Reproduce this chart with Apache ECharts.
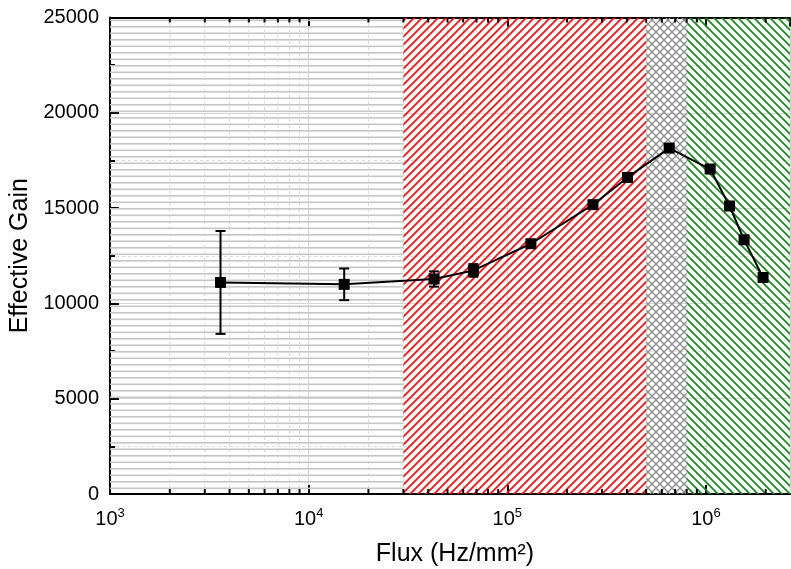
<!DOCTYPE html>
<html><head><meta charset="utf-8">
<script src="https://cdn.jsdelivr.net/npm/echarts@6/dist/echarts.min.js"></script>
<style>html,body{margin:0;padding:0;background:#fff}#c{width:791px;height:569px}</style>
</head><body><div id="c"></div>
<script>
// ---- data ----
const flux    = [3600, 15100, 42800, 67500, 131500, 270000, 403000, 653000, 1050000, 1315000, 1556000, 1940000];
const gain    = [11100, 11000, 11280, 11730, 13130, 15180, 16610, 18150, 17050, 15110, 13340, 11360];
const gainErr = [2700, 830, 400, 330, 180, 150, 150, 150, 150, 150, 150, 150];

const regionStart   = [1000, 30000, 500000, 800000];
const regionEnd     = [30000, 500000, 800000, 2650000];
const regionPattern = ['hlines', 'red', 'cross', 'green'];

const xMin = 1000, xMax = 2650000;
const yMin = 0, yMax = 25000, yStep = 5000;
const xDecades = [1000, 10000, 100000, 1000000];
const minorMult = [2, 3, 4, 5, 6, 7, 8, 9];

// ---- patterns ----
function makePattern(type) {
  const c = document.createElement('canvas');
  let ctx;
  if (type === 'hlines') {
    c.width = 8; c.height = 13; ctx = c.getContext('2d');
    ctx.fillStyle = '#c6c6c6';
    ctx.fillRect(0, 0, 8, 1.6);
    ctx.fillRect(0, 6.5, 8, 1.6);
    return c;
  }
  const s = 8;
  c.width = s; c.height = s; ctx = c.getContext('2d');
  ctx.lineWidth = type === 'cross' ? 1.3 : 1.7;
  ctx.strokeStyle = type === 'red' ? '#ff0a0a' : type === 'green' ? '#1a8a1a' : '#8a8a8a';
  const fwd = () => {
    ctx.beginPath();
    ctx.moveTo(0, s); ctx.lineTo(s, 0);
    ctx.moveTo(-2, 2); ctx.lineTo(2, -2);
    ctx.moveTo(s - 2, s + 2); ctx.lineTo(s + 2, s - 2);
    ctx.stroke();
  };
  const back = () => {
    ctx.beginPath();
    ctx.moveTo(0, 0); ctx.lineTo(s, s);
    ctx.moveTo(-2, s - 2); ctx.lineTo(2, s + 2);
    ctx.moveTo(s - 2, -2); ctx.lineTo(s + 2, 2);
    ctx.stroke();
  };
  if (type === 'red') fwd();
  else if (type === 'green') back();
  else { fwd(); back(); }
  return c;
}
const patterns = {};
['hlines', 'red', 'cross', 'green'].forEach(t => patterns[t] = { image: makePattern(t), repeat: 'repeat' });

// minor tick values on log axis
const minorVals = [];
xDecades.forEach(d => minorMult.forEach(m => { if (d * m < xMax) minorVals.push(d * m); }));

const font = 'Liberation Sans, Arial, sans-serif';

const chart = echarts.init(document.getElementById('c'), null, { renderer: 'canvas' });

const option = {
  animation: false,
  backgroundColor: '#fff',
  grid: { left: 110, right: 1, top: 17.5, bottom: 75, containLabel: false, outerBoundsMode: 'none' },
  xAxis: [{
    type: 'log', logBase: 10, min: xMin, max: xMax, position: 'bottom',
    axisLine: { show: true, onZero: false, lineStyle: { color: '#000', width: 2 } },
    axisTick: { show: true, inside: true, length: 9, lineStyle: { color: '#000', width: 2 } },
    splitLine: { show: true, lineStyle: { color: '#d6d6d6', width: 1 } },
    axisLabel: {
      show: true, margin: 13, showMaxLabel: false, fontFamily: font,
      formatter: function (v) {
        const e = Math.log10(v);
        if (Math.abs(e - Math.round(e)) > 1e-6) return '';
        return '{b|10}{s|' + Math.round(e) + '}';
      },
      rich: {
        b: { fontSize: 20, color: '#000', fontFamily: font, lineHeight: 24 },
        s: { fontSize: 13, color: '#000', fontFamily: font, lineHeight: 14, verticalAlign: 'top' }
      }
    },
    name: 'Flux (Hz/mm²)', nameLocation: 'middle', nameGap: 48,
    nameTextStyle: { fontSize: 25, color: '#000', fontFamily: font, padding: [0, 0, 0, 10] }
  }, {
    type: 'log', logBase: 10, min: xMin, max: xMax, position: 'top',
    axisLine: { show: true, onZero: false, lineStyle: { color: '#000', width: 2 } },
    axisTick: { show: true, inside: true, length: 9, lineStyle: { color: '#000', width: 2 } },
    splitLine: { show: false }, axisLabel: { show: false }
  }],
  yAxis: [{
    type: 'value', min: yMin, max: yMax, interval: yStep,
    axisLine: { show: true, onZero: false, lineStyle: { color: '#000', width: 2 } },
    axisTick: { show: true, inside: true, length: 9, lineStyle: { color: '#000', width: 2 } },
    minorTick: { show: true, splitNumber: 2, length: 5, lineStyle: { color: '#000', width: 2 } },
    splitLine: { show: true, lineStyle: { color: '#d6d6d6', width: 1 } },
    minorSplitLine: { show: true, lineStyle: { color: '#dcdcdc', width: 1, type: [3, 3] } },
    axisLabel: { fontSize: 20, color: '#000', fontFamily: font, margin: 11,
      formatter: function (v) { return String(v); } },
    name: 'Effective Gain', nameLocation: 'middle', nameGap: 72,
    nameTextStyle: { fontSize: 25, color: '#000', fontFamily: font }
  }],
  series: [
    {
      type: 'custom', z: 1, silent: true, clip: true,
      data: minorVals.map(v => [v]),
      encode: { x: 0 },
      renderItem: function (params, api) {
        const v = api.value(0);
        const p0 = api.coord([v, yMin]), p1 = api.coord([v, yMax]);
        return { type: 'line', shape: { x1: p0[0], y1: p0[1], x2: p1[0], y2: p1[1] },
          style: { stroke: '#dcdcdc', lineWidth: 1, lineDash: [3, 3] } };
      }
    },
    {
      type: 'custom', z: 2, silent: true, clip: true,
      data: regionStart.map((s, i) => [s, regionEnd[i], yMin, yMax, i]),
      encode: { x: [0, 1], y: [2, 3] },
      renderItem: function (params, api) {
        const i = api.value(4);
        const a = api.coord([api.value(0), api.value(3)]);
        const b = api.coord([api.value(1), api.value(2)]);
        return { type: 'rect', shape: { x: a[0], y: a[1], width: b[0] - a[0], height: b[1] - a[1] },
          style: { fill: patterns[regionPattern[i]] } };
      }
    },
    {
      type: 'custom', z: 20, silent: true, clip: false,
      data: minorVals.map(v => [v]),
      encode: { x: 0 },
      renderItem: function (params, api) {
        const v = api.value(0);
        const p0 = api.coord([v, yMin]), p1 = api.coord([v, yMax]);
        return { type: 'group', children: [
          { type: 'line', shape: { x1: p0[0], y1: p0[1], x2: p0[0], y2: p0[1] - 5 }, style: { stroke: '#000', lineWidth: 2 } },
          { type: 'line', shape: { x1: p1[0], y1: p1[1], x2: p1[0], y2: p1[1] + 5 }, style: { stroke: '#000', lineWidth: 2 } }
        ] };
      }
    },
    {
      type: 'custom', z: 10, silent: true,
      data: flux.map((f, i) => [f, gain[i] - gainErr[i], gain[i] + gainErr[i]]),
      encode: { x: 0, y: [1, 2] },
      renderItem: function (params, api) {
        const lo = api.coord([api.value(0), api.value(1)]);
        const hi = api.coord([api.value(0), api.value(2)]);
        const w = 5;
        const st = { stroke: '#000', lineWidth: 2 };
        return { type: 'group', children: [
          { type: 'line', shape: { x1: lo[0], y1: lo[1], x2: hi[0], y2: hi[1] }, style: st },
          { type: 'line', shape: { x1: lo[0] - w, y1: lo[1], x2: lo[0] + w, y2: lo[1] }, style: st },
          { type: 'line', shape: { x1: hi[0] - w, y1: hi[1], x2: hi[0] + w, y2: hi[1] }, style: st }
        ] };
      }
    },
    {
      type: 'line', z: 12,
      data: flux.map((f, i) => [f, gain[i]]),
      symbol: 'rect', symbolSize: 11, showSymbol: true,
      lineStyle: { color: '#000', width: 2 },
      itemStyle: { color: '#000' }
    }
  ]
};
chart.setOption(option);
</script>
</body></html>
